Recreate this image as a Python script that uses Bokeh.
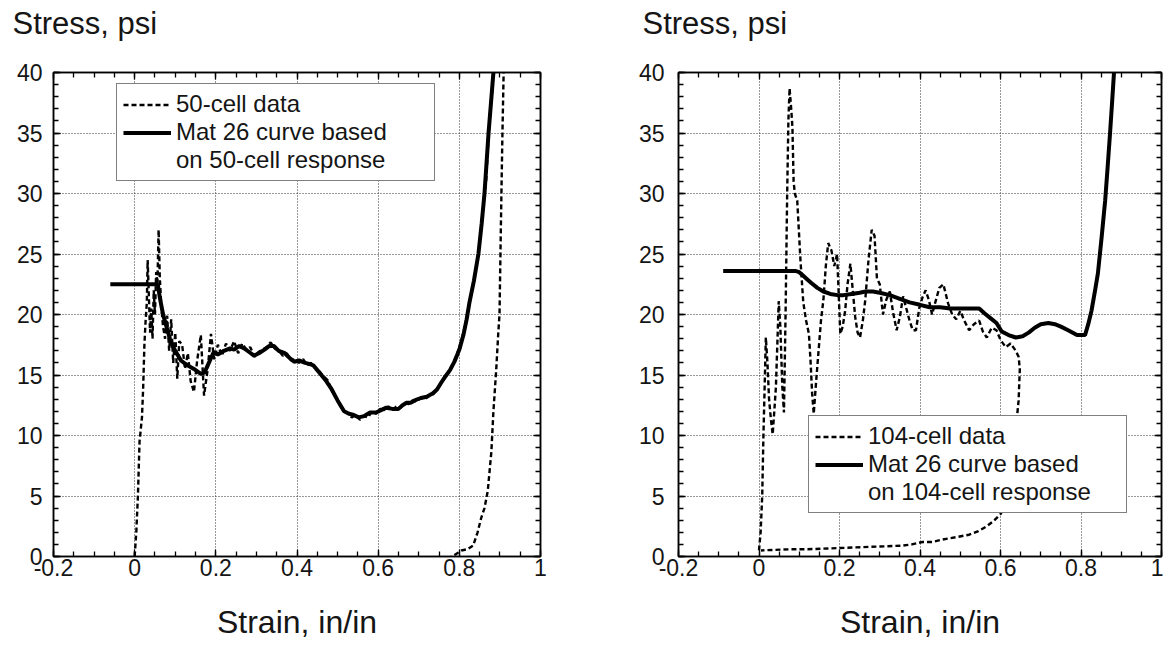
from bokeh.plotting import figure
from bokeh.models import (LinearAxis, SingleIntervalTicker, CustomJSTickFormatter,
                          Legend, LegendItem, Range1d)
from bokeh.layouts import row
from bokeh.embed import file_html
from bokeh.resources import INLINE

FONT = "Liberation Sans"
TEXT = "#151515"

# ---------------- data ----------------
x_label = "Strain, in/in"
y_label = "Stress, psi"
x_tick_step = 0.2
y_tick_step = 5

left_labels = ["50-cell data", "Mat 26 curve based", "on 50-cell response"]
right_labels = ["104-cell data", "Mat 26 curve based", "on 104-cell response"]

left_data_strain = [
    0.0, 0.004, 0.008, 0.012, 0.015, 0.018, 0.021, 0.024, 0.027, 0.03,
    0.032, 0.035, 0.038, 0.041, 0.044, 0.047, 0.05, 0.053, 0.056, 0.059,
    0.062, 0.066, 0.07, 0.075, 0.08, 0.085, 0.09, 0.095, 0.1, 0.105,
    0.11, 0.117, 0.124, 0.131, 0.138, 0.146, 0.154, 0.163, 0.171, 0.18,
    0.188, 0.196, 0.205, 0.215, 0.225, 0.235, 0.245, 0.255, 0.265, 0.275,
    0.285, 0.295, 0.305, 0.315, 0.325, 0.335, 0.345, 0.355, 0.365, 0.375,
    0.385, 0.395, 0.405, 0.415, 0.425, 0.435, 0.445, 0.455, 0.465, 0.475,
    0.485, 0.495, 0.505, 0.515, 0.525, 0.535, 0.545, 0.555, 0.565, 0.575,
    0.585, 0.595, 0.605, 0.615, 0.625, 0.635, 0.645, 0.655, 0.665, 0.675,
    0.685, 0.695, 0.705, 0.715, 0.725, 0.735, 0.745, 0.755, 0.765, 0.775,
    0.785, 0.795, 0.805, 0.815, 0.825, 0.836, 0.847, 0.857, 0.866, 0.874,
    0.881, 0.888, 0.894, 0.91, 0.909, 0.906, 0.902, 0.899, 0.896, 0.891,
    0.884, 0.879, 0.87, 0.862, 0.854, 0.845, 0.834, 0.82, 0.805, 0.792,
    0.78,
]
left_data_stress = [
    0, 2, 5, 9.5, 10.5, 11.5, 14, 17.5, 19.5, 21,
    24.5, 21.5, 18.5, 20.5, 18, 22, 20, 23.5, 22.5, 27,
    23, 20.5, 19, 18, 19.9, 17, 19.6, 16, 18.5, 14.7,
    17.8, 17.5, 15.5, 16.8, 14.5, 13.6, 16.2, 18.3, 13.3, 15.5,
    18.4, 16.3, 17.5, 16.6, 17.6, 17.0, 17.8, 16.8, 17.6, 17.1,
    17.3, 16.5, 16.9, 17.1, 17.3, 17.7, 17.2, 17.0, 16.6, 16.8,
    16.2, 16.3, 16.0, 16.3, 15.8, 16.0, 15.6, 15.3, 14.9, 14.6,
    13.8, 13.2, 12.5, 12.1, 11.8, 11.5, 11.7, 11.3, 11.6, 11.5,
    12.0, 11.8, 12.2, 12.1, 12.4, 12.1, 12.4, 12.3, 12.7, 12.6,
    12.9, 12.8, 13.1, 13.0, 13.3, 13.4, 13.8, 14.3, 14.8, 15.4,
    16.0, 16.8, 17.8, 19.2, 21.0, 22.8, 25.0, 28.3, 31.0, 36.0,
    38.5, 42.0, 44.0, 44.0, 39.7, 34.6, 26.5, 20.0, 18.5, 15.5,
    12.0, 8.7, 5.4, 4.0, 3.2, 2.0, 0.9, 0.6, 0.5, 0.2,
    0.0,
]

left_model_strain = [
    -0.06, 0.057, 0.062, 0.07, 0.08, 0.089, 0.1, 0.114, 0.13, 0.146,
    0.163, 0.172, 0.18, 0.188, 0.195, 0.205, 0.22, 0.235, 0.245, 0.258,
    0.27, 0.282, 0.294, 0.306, 0.32, 0.332, 0.343, 0.355, 0.37, 0.382,
    0.393, 0.405, 0.42, 0.432, 0.44, 0.45, 0.46, 0.472, 0.484, 0.5,
    0.516, 0.528, 0.54, 0.552, 0.565, 0.58, 0.595, 0.607, 0.62, 0.635,
    0.65, 0.66, 0.67, 0.68, 0.69, 0.705, 0.72, 0.735, 0.745, 0.756,
    0.766, 0.777, 0.788, 0.8, 0.81, 0.818, 0.825, 0.836, 0.847, 0.855,
    0.862, 0.867, 0.872, 0.878, 0.884, 0.89,
]
left_model_stress = [
    22.5, 22.5, 21.4, 20.0, 18.8, 17.7, 17.0, 16.2, 15.8, 15.5,
    15.1, 15.2, 15.8, 16.4, 16.9, 16.7, 17.0, 17.2, 17.1, 17.4,
    17.2, 16.9, 16.6, 16.8, 17.1, 17.4, 17.4, 17.0, 16.8, 16.4,
    16.1, 16.2, 16.0, 15.9, 15.8, 15.4, 15.0, 14.5, 13.9, 12.9,
    12.0, 11.8, 11.7, 11.5, 11.6, 11.9, 11.9, 12.1, 12.3, 12.2,
    12.2, 12.5, 12.7, 12.7, 12.9, 13.1, 13.2, 13.5, 13.8, 14.4,
    14.9, 15.4, 16.1, 17.1, 18.3, 19.6, 21.0, 22.8, 25.0, 27.5,
    30.0, 32.5, 35.0, 37.5, 40.0, 42.5,
]

right_data_strain = [
    0.0, 0.004, 0.008, 0.011, 0.014, 0.017, 0.021, 0.025, 0.03, 0.034,
    0.038, 0.042, 0.046, 0.049, 0.053, 0.058, 0.062, 0.066, 0.07, 0.073,
    0.076, 0.08, 0.083, 0.086, 0.089, 0.095, 0.103, 0.11, 0.117, 0.124,
    0.128, 0.132, 0.136, 0.142, 0.148, 0.154, 0.16, 0.166, 0.172, 0.18,
    0.187, 0.194, 0.202, 0.208, 0.214, 0.22, 0.227, 0.233, 0.239, 0.245,
    0.251, 0.258, 0.264, 0.272, 0.28, 0.287, 0.293, 0.3, 0.308, 0.316,
    0.325, 0.333, 0.342, 0.35, 0.358, 0.366, 0.374, 0.382, 0.39, 0.398,
    0.406, 0.414, 0.422, 0.43, 0.438, 0.448, 0.458, 0.47, 0.48, 0.49,
    0.5, 0.51, 0.522, 0.534, 0.547, 0.556, 0.566, 0.578, 0.59, 0.6,
    0.613, 0.625, 0.638, 0.645, 0.648, 0.645, 0.64, 0.636, 0.628, 0.615,
    0.6, 0.585, 0.566, 0.545, 0.522, 0.49, 0.456, 0.43, 0.406, 0.38,
    0.357, 0.32, 0.276, 0.24, 0.2, 0.16, 0.12, 0.079, 0.04, 0.005,
]
right_data_stress = [
    0.5, 2, 5, 10, 14, 18.1, 16, 13, 11.2, 10.1,
    12, 14, 18, 21.1, 19, 14, 11.9, 20, 30, 36,
    38.7, 37, 35.5, 31, 30, 29.4, 24.5, 21, 19.5, 18.4,
    16.2, 13.5, 11.8, 14.5, 17, 19.5, 21.2, 24, 25.9, 25.3,
    24, 25, 18.4, 19, 20.3, 22.5, 24.2, 22, 19.8, 18.5,
    18.1, 19.5, 21.2, 24.5, 27, 26.5, 23, 22.5, 20, 21.2,
    21.9, 20.2, 18.7, 19.8, 21.5, 20.5, 19.5, 18.7, 18.7, 20.5,
    21.4, 22.0, 21.2, 20.0, 21.0, 22.2, 22.5, 20.9, 20.0, 19.6,
    20.3, 19.5, 18.7, 19.2, 19.5, 18.6, 18.1, 18.9, 18.7, 17.9,
    17.3, 17.6, 17.0, 16.5, 15.5, 12.9, 11.2, 9.0, 6.5, 4.5,
    3.5, 3.0, 2.5, 2.1, 1.8, 1.6, 1.4, 1.2, 1.2, 1.0,
    0.9, 0.85, 0.8, 0.75, 0.7, 0.65, 0.6, 0.6, 0.55, 0.5,
]

right_model_strain = [
    -0.089, 0.09, 0.1, 0.11, 0.12, 0.13, 0.145, 0.16, 0.177, 0.195,
    0.21, 0.23, 0.25, 0.265, 0.283, 0.3, 0.325, 0.35, 0.374, 0.4,
    0.424, 0.45, 0.475, 0.5, 0.525, 0.547, 0.56, 0.575, 0.59, 0.603,
    0.62, 0.638, 0.655, 0.67, 0.685, 0.7, 0.719, 0.735, 0.75, 0.768,
    0.79, 0.81, 0.818, 0.826, 0.834, 0.842, 0.851, 0.86, 0.866, 0.872,
    0.877, 0.882, 0.89,
]
right_model_stress = [
    23.6, 23.6, 23.5, 23.2, 22.9, 22.6, 22.2, 21.9, 21.7, 21.6,
    21.6, 21.7, 21.8, 21.9, 21.9, 21.8, 21.6, 21.3, 21.0, 20.8,
    20.6, 20.6, 20.5, 20.5, 20.5, 20.5, 20.1, 19.7, 19.3, 18.6,
    18.3, 18.1, 18.2, 18.5, 18.9, 19.2, 19.3, 19.2, 19.0, 18.7,
    18.3, 18.3, 19.2, 20.3, 21.8, 23.4, 26.3, 29.4, 32.1, 34.9,
    37.4, 40.0, 44.0,
]

FIG_H = 645


def style_axis(ax, show_labels, label_standoff=0):
    ax.axis_line_color = "black"
    ax.axis_line_width = 1.5
    ax.major_tick_in = 7
    ax.major_tick_out = 0
    ax.minor_tick_in = 5
    ax.minor_tick_out = 0
    ax.major_tick_line_color = "black"
    ax.minor_tick_line_color = "black"
    ax.major_tick_line_width = 1.3
    ax.minor_tick_line_width = 1.3
    if show_labels:
        ax.major_label_text_font = FONT
        ax.major_label_text_font_size = "23px"
        ax.major_label_text_color = TEXT
        ax.major_label_standoff = label_standoff
    else:
        ax.formatter = CustomJSTickFormatter(code="return '';")
        ax.major_label_text_font_size = "0px"
        ax.major_label_standoff = 0


def x_ticker():
    return SingleIntervalTicker(interval=x_tick_step, num_minor_ticks=4)


def y_ticker():
    return SingleIntervalTicker(interval=y_tick_step, num_minor_ticks=5)


def make_panel(dx, dy, mx, my, labels, width, b_left, b_right, b_top,
               title_offset, title_line_height, ylab_standoff, legend_loc):
    p = figure(width=width, height=FIG_H, x_range=Range1d(-0.2, 1), y_range=Range1d(0, 40),
               output_backend="svg", toolbar_location=None,
               min_border_left=b_left, min_border_right=b_right,
               min_border_top=b_top, min_border_bottom=89,
               background_fill_color="white", border_fill_color="white")

    # an empty second line gives the title box the height of the top margin,
    # so that its first line sits at the top of the page like the original
    p.title.text = y_label + "\n"
    p.title.align = "left"
    p.title.vertical_align = "top"
    p.title.offset = title_offset
    p.title.standoff = 0
    p.title.text_line_height = title_line_height
    p.title.text_font = FONT
    p.title.text_font_size = "31px"
    p.title.text_font_style = "normal"
    p.title.text_color = TEXT

    p.outline_line_color = "black"
    p.outline_line_width = 1.5

    fmt_x = CustomJSTickFormatter(code="return (Math.round(tick*10)/10).toString();")
    fmt_y = CustomJSTickFormatter(code="return Math.round(tick).toString();")

    xa = p.xaxis[0]
    xa.ticker = x_ticker()
    xa.formatter = fmt_x
    style_axis(xa, True, 2)
    xa.axis_label = x_label
    xa.axis_label_text_font = FONT
    xa.axis_label_text_font_size = "32px"
    xa.axis_label_text_font_style = "normal"
    xa.axis_label_text_color = TEXT
    xa.axis_label_standoff = 25

    ya = p.yaxis[0]
    ya.ticker = y_ticker()
    ya.formatter = fmt_y
    style_axis(ya, True, ylab_standoff)

    top = LinearAxis(ticker=x_ticker())
    style_axis(top, False)
    p.add_layout(top, "above")
    right = LinearAxis(ticker=y_ticker())
    style_axis(right, False)
    p.add_layout(right, "right")

    p.grid.grid_line_color = "#333333"
    p.grid.grid_line_dash = "1 2"
    p.grid.grid_line_width = 1

    r_data = p.line(dx, dy, line_color="black", line_width=2.4, line_dash="5 3")
    r_model = p.line(mx, my, line_color="black", line_width=4)
    r_blank = p.line([], [], line_alpha=0)

    legend = Legend(items=[
        LegendItem(label=labels[0], renderers=[r_data]),
        LegendItem(label=labels[1], renderers=[r_model]),
        LegendItem(label=labels[2], renderers=[r_blank]),
    ], location=legend_loc)
    legend.border_line_color = "black"
    legend.border_line_width = 1.5
    legend.background_fill_color = "white"
    legend.background_fill_alpha = 1
    legend.padding = 6
    legend.spacing = 0
    legend.margin = 0
    legend.glyph_width = 48
    legend.glyph_height = 25
    legend.label_height = 25
    legend.label_width = 252
    legend.label_standoff = 5
    legend.label_text_font = FONT
    legend.label_text_font_size = "24px"
    legend.label_text_color = TEXT
    p.add_layout(legend)
    return p


left = make_panel(left_data_strain, left_data_stress, left_model_strain, left_model_stress,
                  left_labels, width=590, b_left=53, b_right=50, b_top=68,
                  title_offset=-41, title_line_height=0.86, ylab_standoff=11,
                  legend_loc=(63, 375))
right = make_panel(right_data_strain, right_data_stress, right_model_strain, right_model_stress,
                   right_labels, width=573, b_left=88, b_right=2, b_top=72,
                   title_offset=-36, title_line_height=0.87, ylab_standoff=14,
                   legend_loc=(130, 43))

layout = row(left, right)
open("out.html", "w").write(file_html(layout, INLINE))
